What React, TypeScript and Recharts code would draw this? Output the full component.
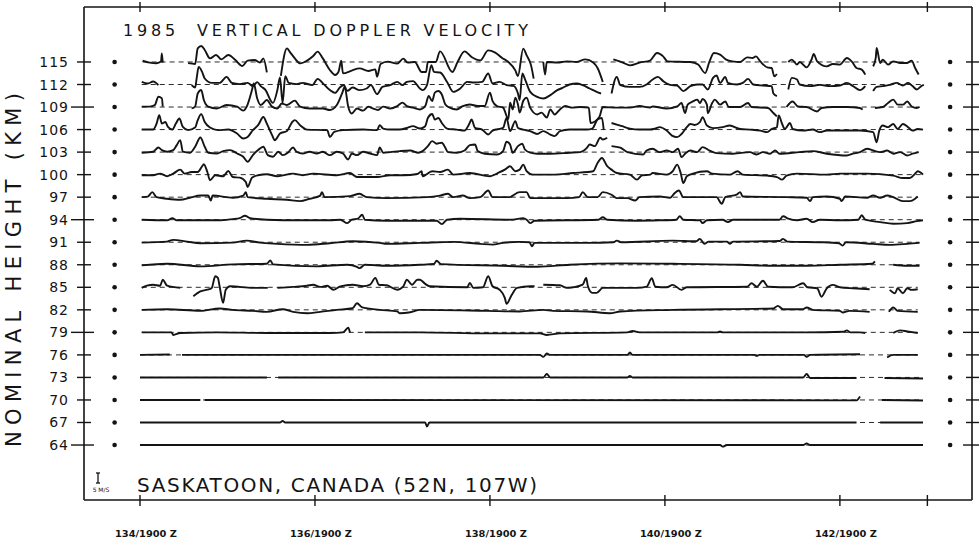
import React from 'react';
import { ComposedChart, Line, XAxis, YAxis } from 'recharts';

type Pt = [number, number | null];

// nominal heights (km) of the traces
const HEIGHTS = [115, 112, 109, 106, 103, 100, 97, 94, 91, 88, 85, 82, 79, 76, 73, 70, 67, 64];
const MAJOR_HEIGHTS = [109, 94, 79, 64];
// time axis: day of year (tick at 19:00 UT)
const TICK_DAYS = [134, 136, 138, 140, 142, 143];
const TICK_LABELS: Record<number, string> = {
  134: '134/1900 Z',
  136: '136/1900 Z',
  138: '138/1900 Z',
  140: '140/1900 Z',
  142: '142/1900 Z',
};
// column of reference dots on each side
const DOT_DAYS = [133.71, 143.26];
// plotting scale: km of height per m/s of vertical velocity (5 m/s bar)
const KM_PER_MS = 0.2663;
const X_DOMAIN: [number, number] = [133.36, 143.51];
const Y_DOMAIN: [number, number] = [56.68, 122.32];

// vertical velocity (m/s) vs. day, per height; null = no data
const v115: Pt[] = [
  [134.03, 0.6], [134.11, -0.3], [134.19, -0.6], [134.24, 0.2], [134.25, 4.3], [134.26, -0.3], [134.4, null],
  [134.55, -0.6], [134.63, -1], [134.66, 6.8], [134.7, 8], [134.74, 6], [134.8, 1.8], [134.87, 3.5], [134.93, 1.3], [135.01, 3.5], [135.09, 1], [135.17, -2], [135.23, 0.7], [135.31, 1], [135.37, -0.3], [135.41, 1.8], [135.45, -5.2], [135.5, null],
  [135.61, -7], [135.68, 6.8], [135.71, 5.2], [135.77, 1.8], [135.83, -0.7], [135.91, 0.7], [135.98, 3], [136.03, 5.2], [136.09, 1.8], [136.17, -4], [136.23, -6.5], [136.27, -4.8], [136.3, 0.7], [136.32, -5.7], [136.42, -4.3], [136.51, -3.2], [136.61, -4.5], [136.69, -3.7], [136.71, -7.3], [136.75, -1], [136.83, 0.2], [136.94, -0.8], [137.01, 1.7], [137.06, -0.3], [137.14, 0], [137.22, -5], [137.27, -5], [137.29, 0], [137.38, 0], [137.43, 5.3], [137.57, -5], [137.63, 0], [137.71, 5.3], [137.79, 2.5], [137.89, 0.8], [137.98, 5.8], [138.06, 4.7], [138.14, 2], [138.21, 0], [138.29, -4.2], [138.32, -7], [138.38, 6.7], [138.42, 3.3], [138.47, -1.7], [138.5, -8.3], [138.55, null],
  [138.61, 0], [138.63, -6.3], [138.65, 0], [138.77, -0.3], [138.88, 0.3], [138.99, 0], [139.09, 1.3], [139.18, -0.3], [139.23, -3], [139.29, -10], [139.33, null],
  [139.41, 1.3], [139.52, -0.3], [139.6, -1.7], [139.71, -0.3], [139.83, 0.7], [139.91, 4.5], [139.98, 2.8], [140.03, 0.3], [140.29, 0], [140.38, -1.3], [140.46, -5.5], [140.51, 0.3], [140.56, 4.5], [140.63, 3.7], [140.7, 1.2], [140.77, 0.3], [140.86, 0], [140.94, 2.3], [141.0, 2], [141.04, 2.8], [141.09, 0.3], [141.17, -2.7], [141.22, -3], [141.25, -7.2], [141.28, -6], [141.33, null],
  [141.41, 0], [141.45, 1.2], [141.51, -1.3], [141.54, 0], [141.62, -2.7], [141.68, 1.7], [141.7, 4], [141.74, 0.3], [141.85, -2.2], [141.92, -1], [142.0, -1.3], [142.08, 2], [142.14, 0], [142.19, -3], [142.25, -3.8], [142.29, -6.3], [142.33, null],
  [142.38, -2.2], [142.41, 2], [142.42, 7], [142.46, -0.5], [142.49, 1.2], [142.55, -1.3], [142.61, 0.3], [142.69, -0.5], [142.77, -0.5], [142.82, 0.7], [142.86, -3], [142.9, -6.3],
];

const v112: Pt[] = [
  [134.02, 1.3], [134.09, 0.5], [134.15, 1.5], [134.21, -0.3], [134.3, null],
  [134.59, -0.3], [134.63, -1.5], [134.65, 3.8], [134.67, 8.8], [134.71, 6.3], [134.74, 3], [134.82, 0.8], [134.91, 0.8], [134.99, 3.8], [135.05, 0.8], [135.14, 0.2], [135.23, 0.8], [135.29, -0.8], [135.34, 1.2], [135.38, -0.8], [135.43, -2.5], [135.52, -9.2], [135.57, -2.8], [135.6, 3.5], [135.63, -9.2], [135.66, 4.2], [135.7, 0.8], [135.79, 0.2], [135.86, 0.8], [135.97, -0.3], [136.03, 2.8], [136.1, 0.2], [136.17, -2.8], [136.23, -4.2], [136.29, -1.2], [136.33, -0.3], [136.37, -3.2], [136.43, -1.5], [136.51, -2.8], [136.59, -2], [136.64, -0.3], [136.71, -4.8], [136.77, -1.2], [136.86, -0.3], [136.94, 1.3], [137.0, -0.3], [137.05, 1.3], [137.12, 1.7], [137.2, -2], [137.23, -2.8], [137.28, -0.3], [137.33, 9.7], [137.36, 6.3], [137.43, 6], [137.51, 1.3], [137.58, -3.7], [137.66, -2], [137.74, 1.3], [137.82, 1], [137.91, 1.3], [137.98, 5.5], [138.03, 0.5], [138.11, 1.3], [138.19, -0.3], [138.27, -0.7], [138.32, -4.5], [138.34, -7.8], [138.37, 5.5], [138.4, 2.7], [138.46, -3.7], [138.54, -6.2], [138.61, -7], [138.69, -5.3], [138.77, -2.8], [138.83, -1.7], [138.91, 0], [138.99, 0.5], [139.06, -0.3], [139.14, -2], [139.22, -3.7], [139.27, -4.5], [139.31, null],
  [139.39, -4.5], [139.45, 3.8], [139.49, -0.3], [139.6, -1.2], [139.71, -1.2], [139.79, 0], [139.86, 2.5], [139.92, 3.8], [139.98, 1.7], [140.06, -0.2], [140.14, -0.5], [140.21, -3.3], [140.29, -0.8], [140.37, 0], [140.43, 0], [140.49, -2.5], [140.55, 3.3], [140.59, 4.5], [140.63, 0.8], [140.69, 3.8], [140.72, 0.8], [140.82, 0], [140.89, 0.8], [140.95, 2.8], [141.01, 0], [141.12, -0.5], [141.22, -0.8], [141.24, -4.5], [141.28, -5.8], [141.33, null],
  [141.41, -2.5], [141.45, 3.3], [141.51, 2.5], [141.54, 0], [141.66, -0.8], [141.77, -0.2], [141.89, -0.8], [142.0, -0.5], [142.08, 0.8], [142.15, -0.8], [142.23, -2.8], [142.29, -0.8], [142.33, null],
  [142.38, -3.3], [142.42, -1.2], [142.49, -0.8], [142.57, -0.2], [142.65, 0.8], [142.72, -0.5], [142.78, 0.8], [142.83, -0.8], [142.88, -2.5], [142.93, -0.8], [142.96, -0.2],
];

const v109: Pt[] = [
  [134.02, 0.2], [134.11, 0.2], [134.17, 1], [134.21, 5.2], [134.25, 4.3], [134.26, 0.2], [134.35, null],
  [134.59, -0.7], [134.63, 0.2], [134.66, 6.8], [134.7, 8.5], [134.73, 3.5], [134.78, 0.2], [134.88, -0.7], [134.99, 1], [135.11, 0.2], [135.18, -1.8], [135.22, 0.2], [135.28, 8.5], [135.3, 11.8], [135.34, 4.3], [135.38, 1], [135.45, 3.5], [135.51, 0.2], [135.57, -0.7], [135.62, 1.8], [135.68, 1], [135.77, 3.2], [135.83, 0.2], [135.94, -0.7], [136.09, -0.7], [136.17, -1.5], [136.25, 1], [136.31, 6.8], [136.34, 10], [136.38, 0.2], [136.42, -3.2], [136.48, -0.7], [136.55, -1.8], [136.61, 0.2], [136.66, -0.7], [136.72, -1.5], [136.78, 0.2], [136.86, -0.7], [136.94, 0.5], [137.0, 2.2], [137.05, 0.5], [137.12, -0.3], [137.2, -1.2], [137.26, 0.5], [137.3, 5.5], [137.34, 3], [137.37, 7.2], [137.41, 8], [137.45, 6.3], [137.49, 1.3], [137.54, -0.3], [137.62, -1.2], [137.69, 0.5], [137.77, 1.3], [137.86, 0.5], [137.94, 0.5], [138.0, 7.2], [138.03, 3], [138.08, 0.5], [138.15, -0.3], [138.21, -6], [138.23, 2.2], [138.26, -1.2], [138.29, 4.7], [138.32, 1.3], [138.34, -2.8], [138.38, 3], [138.42, 4.7], [138.46, -0.3], [138.54, -3.7], [138.59, -2.8], [138.65, -5.3], [138.69, -1.2], [138.74, -3.7], [138.8, -1.2], [138.86, 0.5], [138.94, -0.3], [139.03, 0], [139.13, -0.3], [139.15, -8], [139.25, -5], [139.29, 0], [139.45, -0.3], [139.6, -0.3], [139.71, 0.5], [139.83, -0.3], [139.86, 0.3], [140.02, -0.8], [140.14, 0.3], [140.19, 2], [140.23, -3], [140.26, 1.2], [140.32, 2.8], [140.37, 3.7], [140.4, 2], [140.43, 4], [140.48, 1.2], [140.49, -3], [140.54, 2], [140.57, 3.7], [140.63, 1.2], [140.69, 2.8], [140.73, 0], [140.86, 0], [140.95, 2], [140.99, 0], [141.18, -0.5], [141.24, -3], [141.28, -4.7], [141.32, null],
  [141.39, 0], [141.46, 2.8], [141.52, 0.3], [141.62, 0], [141.74, -2.2], [141.79, -0.5], [141.92, 0], [142.08, 0], [142.23, -0.5], [142.26, -1.3], [142.33, null],
  [142.4, -0.5], [142.49, 0], [142.55, 2], [142.61, 3.7], [142.66, 1.2], [142.72, 1.2], [142.77, 2.8], [142.82, 0.3], [142.88, -0.5], [142.91, 0],
];

const v106: Pt[] = [
  [134.02, 0], [134.15, 0], [134.19, 3], [134.22, 7.2], [134.25, 3], [134.29, 3.8], [134.32, 1.3], [134.37, 0], [134.41, 3], [134.45, 5.5], [134.49, 1.3], [134.55, -0.3], [134.63, 1], [134.66, 4.7], [134.7, 7.7], [134.74, 3.8], [134.8, 1], [134.89, -0.3], [135.01, 0], [135.11, -2], [135.18, -4.5], [135.23, -3.7], [135.29, -0.3], [135.35, 2.2], [135.41, 6.3], [135.45, 3], [135.51, -2.8], [135.54, -5.3], [135.6, -2], [135.68, -0.7], [135.74, 3.8], [135.77, 4.7], [135.83, 2.2], [135.91, 0], [136.14, -0.3], [136.17, -3.7], [136.22, -1.2], [136.32, -0.3], [136.55, 0], [136.71, -0.3], [136.74, 2.2], [136.78, 0.5], [136.86, 0], [136.97, 0], [137.05, 0.8], [137.12, 1.7], [137.2, 0.5], [137.26, 1.7], [137.29, 5.8], [137.34, 7.8], [137.37, 5], [137.41, 5.8], [137.45, 3.3], [137.51, 0.5], [137.62, 0], [137.71, -0.5], [137.76, 2.5], [137.79, 5], [137.83, 0.8], [137.91, 0], [137.98, -2.5], [138.03, -0.5], [138.15, 0.8], [138.19, 5.8], [138.23, -0.8], [138.29, 4.2], [138.32, 0.8], [138.38, 0], [138.46, -0.8], [138.54, -2.2], [138.61, -0.8], [138.69, -2.5], [138.74, -3.3], [138.8, -0.8], [138.91, 0], [139.11, 0], [139.17, 0.5], [139.23, 5], [139.28, 5.8], [139.3, 0], [139.33, null],
  [139.39, 3.3], [139.51, 1.7], [139.6, 0.5], [139.71, 0], [139.83, 0], [139.89, 0.5], [139.94, 1.2], [140.02, -0.5], [140.08, -3], [140.14, -3.8], [140.19, -2.2], [140.25, 1.2], [140.29, 2.8], [140.34, 2.3], [140.4, 3.7], [140.43, 6.2], [140.48, 2], [140.55, 0.7], [140.66, 1.2], [140.74, 2], [140.86, 0.3], [140.97, 0], [141.09, -0.5], [141.17, -1.3], [141.22, 0.3], [141.28, 1.2], [141.3, 7], [141.34, 2.8], [141.37, 0.3], [141.43, 3.3], [141.46, 0.3], [141.58, -0.5], [141.69, 0], [141.77, -1.3], [141.85, -0.5], [142.08, -0.5], [142.23, -0.5], [142.38, -1.3], [142.42, -6.3], [142.45, -0.5], [142.49, 2], [142.55, 1.2], [142.61, 2.8], [142.66, 0.3], [142.72, 2.8], [142.78, 1.2], [142.83, -0.5], [142.89, 0.3], [142.95, 0],
];

const v103: Pt[] = [
  [134.02, -0.3], [134.15, 0.2], [134.21, 2.3], [134.25, 1], [134.31, 0.2], [134.38, 1], [134.42, 3.5], [134.46, 6], [134.49, 0.2], [134.57, -0.3], [134.63, 2.7], [134.69, 7.3], [134.74, 2.7], [134.78, -0.3], [134.88, -0.7], [134.95, 0.5], [135.03, 1], [135.11, -0.7], [135.18, -2.3], [135.23, -4.8], [135.29, -1.5], [135.35, 1], [135.41, 2.7], [135.46, -1.5], [135.52, -2.3], [135.58, 0.2], [135.63, -1.5], [135.69, -0.3], [135.75, 2.3], [135.79, 0.2], [135.86, -0.7], [135.94, 0.2], [136.02, -0.7], [136.09, 0.2], [136.17, -1.5], [136.25, 0.2], [136.32, -0.7], [136.38, -3.7], [136.42, -0.7], [136.48, -1.5], [136.55, 0.2], [136.63, -0.7], [136.71, -1.5], [136.74, 2.3], [136.78, -0.3], [136.86, 0], [136.97, 0.5], [137.09, 0.8], [137.18, -0.3], [137.23, 0.5], [137.29, 3], [137.34, 5.5], [137.39, 4.2], [137.45, 4.7], [137.49, 2.2], [137.52, 0], [137.62, -0.3], [137.71, 0.8], [137.77, 3.5], [137.83, 3.8], [137.86, 0.5], [137.94, -0.8], [138.08, -1.2], [138.15, 0.5], [138.19, 5.2], [138.23, 3.8], [138.26, -0.3], [138.32, 3], [138.37, 4.2], [138.4, 1.3], [138.46, -0.3], [138.54, -0.8], [138.69, -0.8], [138.91, -0.3], [139.03, 0], [139.11, 2.2], [139.14, 3.8], [139.2, 3], [139.26, 7.2], [139.29, 6.3], [139.34, 7.2], [139.37, null],
  [139.39, 3], [139.49, 2.2], [139.57, 0], [139.75, -1.2], [139.79, 0.8], [139.86, 1.7], [139.94, 0], [140.02, 0.8], [140.09, 0], [140.15, 1.7], [140.19, -2.5], [140.23, -0.8], [140.29, 0.8], [140.37, 0], [140.43, 2.5], [140.51, 0.8], [140.59, -0.5], [140.78, -0.8], [140.97, 0], [141.05, -1.2], [141.12, 0], [141.2, -0.8], [141.26, 0.8], [141.31, -0.8], [141.54, 0], [141.69, 0.5], [141.85, -0.8], [142.08, -1.7], [142.15, -0.8], [142.23, 0], [142.31, 1.7], [142.38, 0.8], [142.46, 0], [142.54, 0.8], [142.61, -0.8], [142.69, 0], [142.77, -1.7], [142.83, -0.8], [142.9, 0],
];

const v100: Pt[] = [
  [134.02, -0.3], [134.15, -0.3], [134.23, 0.5], [134.31, -0.8], [134.38, 0.5], [134.46, 2.5], [134.51, 0.5], [134.59, 1.3], [134.66, 1.3], [134.71, 4.2], [134.73, 5.2], [134.77, 1.3], [134.8, -2.8], [134.86, -0.3], [134.95, -0.8], [135.01, 1.8], [135.06, -1.2], [135.14, -1.5], [135.21, -3.7], [135.23, -6.2], [135.28, -1.5], [135.35, -0.3], [135.45, 0.2], [135.57, -0.8], [135.75, 0.5], [135.86, -0.3], [135.98, 0.5], [136.25, -0.3], [136.4, 0.8], [136.48, -1.2], [136.71, -1.2], [136.86, -0.3], [137.01, -0.3], [137.17, 0.3], [137.22, 1.7], [137.23, -0.8], [137.34, 1.7], [137.43, 1.3], [137.52, 2.5], [137.58, 0], [137.77, 0.8], [138.0, -0.8], [138.09, 0.8], [138.17, 2.5], [138.23, 4.2], [138.29, 1.7], [138.34, 2.5], [138.38, 5], [138.42, 1.7], [138.49, 0], [138.72, 0], [138.95, 0.8], [139.18, 1.7], [139.23, 5.8], [139.28, 8.3], [139.34, 4.2], [139.39, 2.5], [139.45, 0.8], [139.6, 0], [139.68, -2.5], [139.74, -0.3], [139.83, 0], [139.86, 0.8], [140.02, 0], [140.09, 1.7], [140.14, 5], [140.18, 0.8], [140.21, -4.2], [140.25, -0.8], [140.32, 0.5], [140.48, 1.7], [140.54, 0.5], [140.74, 0], [140.83, 1.7], [140.89, 0], [141.17, -0.5], [141.28, -1.2], [141.34, -2.5], [141.39, -0.5], [141.51, 0.5], [141.85, 0], [142.0, 0.5], [142.31, 0.5], [142.61, -0.5], [142.72, -1.7], [142.8, -1.7], [142.86, 0.5], [142.89, 1.7], [142.95, 0],
];

const v97: Pt[] = [
  [134.02, 0], [134.09, 0.3], [134.14, 2.5], [134.19, 0], [134.31, -0.8], [134.46, -1.3], [134.57, -0.3], [134.69, 0.8], [134.78, 0.8], [134.81, -1.7], [134.83, 0.8], [135.06, -0.3], [135.18, 0.8], [135.21, 2.5], [135.23, 0], [135.45, -0.8], [135.68, -1.3], [135.83, -2], [135.94, -0.8], [136.06, 0.8], [136.08, 2.5], [136.11, 0], [136.4, 0.5], [136.51, 1.7], [136.59, 0], [136.82, -0.5], [137.28, 0], [137.43, 0.8], [137.52, 1.7], [137.58, 0], [137.69, 0.8], [137.77, -0.5], [137.89, 0], [137.98, 3.3], [138.03, 0], [138.23, 0], [138.26, 0.8], [138.34, 2.5], [138.42, 2.5], [138.46, -0.5], [138.88, -0.5], [139.02, 0], [139.06, 2.5], [139.12, 0], [139.23, 0], [139.29, 2.5], [139.39, 1.2], [139.45, -0.5], [139.57, -0.5], [139.66, -1.7], [139.71, 0], [139.94, 0.3], [140.06, -0.3], [140.11, 2], [140.16, 3.3], [140.21, 0], [140.59, 0], [140.65, -3.3], [140.69, 0], [140.82, 1.3], [140.86, 2.5], [140.89, 0.3], [141.39, 0], [141.62, -0.3], [141.66, -2], [141.69, 0], [141.85, 0.3], [142.0, -0.8], [142.02, -2], [142.06, 0.3], [142.31, -0.3], [142.38, 0.8], [142.46, -0.3], [142.54, 0.8], [142.61, 0], [142.72, -2], [142.8, -2], [142.86, -0.8], [142.89, 0.3],
];

const v94: Pt[] = [
  [134.02, 0], [134.31, -0.3], [134.37, 0.8], [134.42, -0.3], [134.88, -0.3], [135.06, 0.3], [135.14, 0.8], [135.2, 2], [135.26, 0.8], [135.45, 0], [135.83, -0.3], [136.17, -0.3], [136.29, 0], [136.37, -1.7], [136.42, 0], [136.49, 0.5], [136.54, 2.5], [136.57, 0], [136.82, -0.5], [137.39, -0.5], [137.45, -2.2], [137.51, 0], [137.66, 0.5], [138.26, 0], [138.38, 0.8], [138.42, 0], [138.46, -1.7], [138.51, -0.5], [139.24, 0], [139.29, 1.2], [139.34, 0], [139.68, -0.5], [139.94, -0.3], [140.13, 0], [140.17, 1.7], [140.21, 0], [140.4, -0.3], [140.43, -1.7], [140.48, -0.3], [140.66, 0], [140.72, -1.2], [140.78, 0], [141.31, 0], [141.35, 1.7], [141.41, 0.5], [141.51, -0.3], [141.62, 0.5], [141.69, -1.2], [141.77, 0], [142.0, -0.3], [142.21, 0], [142.25, 2.2], [142.29, 0], [142.46, -1.2], [142.61, -2], [142.77, -1.7], [142.88, -0.7], [142.95, -0.3],
];

const v91: Pt[] = [
  [134.02, -0.2], [134.31, 0.3], [134.38, 1.2], [134.54, 0.3], [134.69, -0.5], [135.06, -0.2], [135.22, 0.8], [135.37, -0.2], [135.57, -0.8], [135.91, -1.3], [136.17, -0.5], [136.43, 0.5], [136.74, -0.3], [136.82, -0.8], [137.2, -0.3], [137.58, 0.2], [137.89, -0.8], [138.03, -1.2], [138.15, -0.3], [138.34, 0.2], [138.45, 0], [138.48, -2], [138.51, -0.3], [139.11, -0.3], [139.41, 0], [139.45, 0.8], [139.5, 0], [140.09, 0.8], [140.36, 0.5], [140.4, 1.7], [140.45, -0.8], [140.5, 0.3], [140.71, 0.3], [140.74, -0.8], [140.78, 0.3], [141.31, 0.6], [141.35, 1.7], [141.4, 0.3], [141.81, 0], [141.99, -0.5], [142.03, -1.7], [142.07, 0], [142.38, -0.8], [142.57, -1.3], [142.77, -0.8], [142.91, -0.3],
];

const v88: Pt[] = [
  [134.02, -0.3], [134.31, 0.5], [134.69, -0.8], [135.06, 0.2], [135.45, 0.5], [135.49, 2.2], [135.52, 0.2], [136.02, -0.8], [136.37, 0], [136.48, -1], [136.51, -1.7], [136.57, 0], [136.82, -0.5], [137.2, 0], [137.36, 0.4], [137.39, 2], [137.44, 0.3], [138.15, -0.5], [138.54, -1], [138.91, 0], [139.49, 0.7], [140.09, 0.5], [140.86, 0], [141.24, -0.5], [141.62, -0.5], [142.0, 0], [142.37, 0.5], [142.4, 1.7], [142.5, null],
  [142.61, 0], [142.77, -0.5], [142.91, -0.5],
];

const v85: Pt[] = [
  [134.02, -0.3], [134.08, 0.8], [134.15, 1.3], [134.23, 0.8], [134.26, 3.8], [134.31, 0.8], [134.46, -0.3], [134.5, null],
  [134.61, -4.5], [134.69, -2], [134.77, -1.2], [134.82, -0.3], [134.86, 5.5], [134.89, 4.7], [134.91, 0.5], [134.95, -7.8], [134.98, -1.2], [135.03, 0.5], [135.29, -0.3], [135.46, -0.3], [135.5, null],
  [135.57, -0.3], [135.75, 0.2], [135.91, 0.8], [135.98, 1.3], [136.06, 0.2], [136.14, 0.8], [136.21, -1.2], [136.29, 0.5], [136.43, 1.3], [136.55, 0.5], [136.63, 1.3], [136.69, 4.7], [136.73, 1.3], [136.82, 1], [136.94, -1.2], [137.01, 0.5], [137.05, 3.8], [137.11, 1.3], [137.17, 3.8], [137.2, 3.8], [137.26, 1.7], [137.31, 0.5], [137.74, 0], [137.77, 2.2], [137.81, -0.3], [137.92, 0], [137.98, 5.5], [138.03, 0.5], [138.11, -1.2], [138.17, -5.3], [138.19, -8.3], [138.25, -3.7], [138.31, -0.3], [138.46, 0.5], [138.51, 0.5], [138.55, null],
  [138.61, 1.3], [138.8, 1], [138.88, -0.3], [138.95, 0], [139.06, 1.3], [139.1, 4.7], [139.12, 0.5], [139.17, -2.8], [139.22, -2.8], [139.29, -0.3], [139.68, -0.3], [139.79, 0.3], [139.85, 4.5], [139.89, 0.3], [140.02, 0], [140.09, 1.2], [140.19, -1.3], [140.25, 0], [140.94, 0.3], [140.99, 2], [141.05, 0.3], [141.12, 3.3], [141.18, 0.3], [141.46, 0], [141.58, 2], [141.63, 0], [141.74, -0.5], [141.79, -4.7], [141.85, -0.5], [141.92, 1.2], [142.0, 0], [142.15, -0.5], [142.34, -1], [142.4, null],
  [142.57, -1.3], [142.63, -3], [142.66, -0.5], [142.72, -3], [142.77, -0.5], [142.82, -1.3], [142.89, -1],
];

const v82: Pt[] = [
  [134.02, 0], [134.31, 0.3], [134.69, -0.5], [134.91, 0.7], [135.06, 0], [135.29, -0.5], [135.45, -1], [135.63, 0.3], [135.75, -1], [135.91, -1.7], [136.06, -1], [136.25, 0], [136.43, 0.8], [136.48, 3.3], [136.54, 1.2], [136.74, 0], [136.94, -0.8], [136.97, -1.7], [137.09, -1.2], [137.2, 0], [137.97, -0.5], [138.34, -0.8], [138.61, 0], [138.72, -0.5], [139.11, -0.8], [139.37, -1.7], [139.49, -0.8], [140.09, 0], [141.24, 0.7], [141.29, 2], [141.35, 0.3], [141.58, 0.3], [141.62, 1.2], [141.69, 0], [142.0, -0.5], [142.03, -1.3], [142.11, -0.5], [142.34, -1], [142.4, null],
  [142.56, -1], [142.61, 1.2], [142.66, -0.5], [142.89, -1],
];

const v79: Pt[] = [
  [134.02, 0], [134.36, 0], [134.38, -1.3], [134.46, -0.3], [134.88, 0], [135.45, -0.3], [136.17, -0.3], [136.32, 0], [136.38, 2.3], [136.4, 0], [136.45, null],
  [136.57, 0], [137.2, 0], [137.97, -0.5], [138.57, -0.5], [138.65, -1.3], [138.8, -0.5], [139.57, 0], [139.63, 0.7], [139.71, 0], [140.6, 0], [140.63, 0.5], [140.66, 0], [141.62, 0], [142.04, 0.3], [142.08, 1], [142.12, 0], [142.23, 0], [142.29, -0.3], [142.4, null],
  [142.61, -0.3], [142.69, 1], [142.77, 0.5], [142.89, -0.3],
];

const v76: Pt[] = [
  [134.0, 0], [134.34, 0.2], [134.4, null],
  [134.48, 0], [138.57, 0], [138.61, -1], [138.65, 0.7], [138.69, 0], [139.57, 0], [139.6, 1.2], [139.63, 0], [141.02, 0], [141.05, -0.5], [141.08, 0], [141.59, 0], [141.62, -1], [141.66, 0], [142.23, 0.3], [142.4, null],
  [142.54, -1.3], [142.61, 0], [142.89, 0],
];

const v73: Pt[] = [
  [134.0, 0], [135.45, 0], [135.5, null],
  [135.58, 0], [138.61, 0], [138.65, 1.7], [138.69, 0], [139.57, 0], [139.6, 0.8], [139.63, 0], [141.58, 0], [141.62, 1.7], [141.66, -0.3], [142.19, -0.3], [142.3, null],
  [142.51, -0.3], [142.95, -0.5],
];

const v70: Pt[] = [
  [134.0, 0], [134.69, 0], [134.72, null],
  [134.74, 0], [142.19, -0.2], [142.23, 1.7], [142.3, null],
  [142.48, 0], [142.95, -0.3],
];

const v67: Pt[] = [
  [134.0, 0], [135.6, 0], [135.63, 0.8], [135.66, 0], [137.26, 0], [137.28, -2], [137.31, 0], [142.19, 0], [142.3, null],
  [142.46, 0], [142.95, 0],
];

const v64: Pt[] = [
  [134.0, 0], [140.63, 0], [140.66, -0.8], [140.71, 0], [141.58, 0], [141.62, 0.8], [141.66, 0], [142.95, 0],
];

const ROWS: [number, Pt[]][] = [
  [115, v115], [112, v112], [109, v109], [106, v106], [103, v103], [100, v100],
  [97, v97], [94, v94], [91, v91], [88, v88], [85, v85], [82, v82],
  [79, v79], [76, v76], [73, v73], [70, v70], [67, v67], [64, v64],
];

const INK = '#141414';
const FONT = '"DejaVu Sans", "Liberation Sans", sans-serif';

const toSeries = (h: number, pts: Pt[]) =>
  pts.map(([t, v]) => ({ t, v: v === null ? null : h + v * KM_PER_MS }));

const baseline = (h: number, pts: Pt[]) => [
  { t: pts[0][0], v: h },
  { t: pts[pts.length - 1][0], v: h },
];

const BottomTick = (p: any) => {
  const { x, y, payload } = p;
  const lbl = TICK_LABELS[payload.value];
  return (
    <g>
      <line x1={x} x2={x} y1={y - 5} y2={y + 6} stroke={INK} strokeWidth={1.4} />
      {lbl ? (
        <text x={x + 6} y={y + 37} textAnchor="middle" fontSize={9.5} fontWeight="bold" fontFamily={FONT} fill={INK} textLength={62} lengthAdjust="spacingAndGlyphs">
          {lbl}
        </text>
      ) : null}
    </g>
  );
};

const TopTick = (p: any) => {
  const { x, y } = p;
  return <line x1={x} x2={x} y1={y - 5} y2={y + 5} stroke={INK} strokeWidth={1.4} />;
};

const LeftTick = (p: any) => {
  const { x, y, payload } = p;
  const major = MAJOR_HEIGHTS.includes(payload.value);
  return (
    <g>
      <line x1={x - (major ? 13 : 7)} x2={x + (major ? 10 : 7)} y1={y} y2={y} stroke={INK} strokeWidth={1.4} />
      <text x={x - 15} y={y + 5} textAnchor="end" fontSize={14} fontFamily={FONT} fill={INK} letterSpacing={1}>
        {payload.value}
      </text>
    </g>
  );
};

const RightTick = (p: any) => {
  const { x, y, payload } = p;
  const major = MAJOR_HEIGHTS.includes(payload.value);
  return <line x1={x - (major ? 9 : 6)} x2={x + 7} y1={y} y2={y} stroke={INK} strokeWidth={1.4} />;
};

export default function App() {
  const dotsLeft = HEIGHTS.map((h) => ({ t: DOT_DAYS[0], v: h }));
  const dotsRight = HEIGHTS.map((h) => ({ t: DOT_DAYS[1], v: h }));
  return (
    <div style={{ position: 'absolute', left: 0, top: 0, width: 980, height: 542, background: '#fff' }}>
      <ComposedChart width={980} height={542} margin={{ top: 6, right: 7, bottom: 41, left: 83 }}>
        <XAxis xAxisId="b" type="number" dataKey="t" domain={X_DOMAIN} allowDataOverflow orientation="bottom" height={1}
          ticks={TICK_DAYS} interval={0} tickSize={0} tickMargin={0} tickLine={false} tick={BottomTick}
          axisLine={{ stroke: INK, strokeWidth: 1.6 }} />
        <XAxis xAxisId="t" type="number" dataKey="t" domain={X_DOMAIN} allowDataOverflow orientation="top" height={1}
          ticks={TICK_DAYS} interval={0} tickSize={0} tickMargin={0} tickLine={false} tick={TopTick}
          axisLine={{ stroke: INK, strokeWidth: 1.6 }} />
        <YAxis yAxisId="l" type="number" domain={Y_DOMAIN} allowDataOverflow orientation="left" width={1}
          ticks={HEIGHTS} interval={0} tickSize={0} tickMargin={0} tickLine={false} tick={LeftTick}
          axisLine={{ stroke: INK, strokeWidth: 1.6 }} />
        <YAxis yAxisId="r" type="number" domain={Y_DOMAIN} allowDataOverflow orientation="right" width={1}
          ticks={HEIGHTS} interval={0} tickSize={0} tickMargin={0} tickLine={false} tick={RightTick}
          axisLine={{ stroke: INK, strokeWidth: 1.6 }} />
        {ROWS.map(([h, pts]) => (
          <Line key={'b' + h} xAxisId="b" yAxisId="l" data={baseline(h, pts)} dataKey="v" type="linear"
            stroke={INK} strokeWidth={0.9} strokeDasharray="5 4" dot={false} activeDot={false} isAnimationActive={false} />
        ))}
        {ROWS.map(([h, pts]) => (
          <Line key={'s' + h} xAxisId="b" yAxisId="l" data={toSeries(h, pts)} dataKey="v" type="monotoneX"
            stroke={INK} strokeWidth={1.9} strokeLinejoin="round" dot={false} activeDot={false}
            connectNulls={false} isAnimationActive={false} />
        ))}
        <Line xAxisId="b" yAxisId="l" data={dotsLeft} dataKey="v" stroke="none" isAnimationActive={false}
          dot={{ r: 2.3, fill: INK, stroke: 'none' }} activeDot={false} />
        <Line xAxisId="t" yAxisId="r" data={dotsRight} dataKey="v" stroke="none" isAnimationActive={false}
          dot={{ r: 2.3, fill: INK, stroke: 'none' }} activeDot={false} />
      </ComposedChart>
      <svg width={980} height={542} style={{ position: 'absolute', left: 0, top: 0, pointerEvents: 'none' }}>
        <text x={123} y={36} fontSize={16} fontFamily={FONT} fill={INK} textLength={405} lengthAdjust="spacing" style={{ whiteSpace: 'pre' }}>
          1985  VERTICAL DOPPLER VELOCITY
        </text>
        <text x={137} y={492} fontSize={20} fontFamily={FONT} fill={INK} textLength={400} lengthAdjust="spacing">
          SASKATOON, CANADA (52N, 107W)
        </text>
        <text transform="translate(21,270) rotate(-90)" textAnchor="middle" fontSize={21} fontFamily={FONT} fill={INK} textLength={354} lengthAdjust="spacing">
          NOMINAL HEIGHT (KM)
        </text>
        <g stroke={INK} strokeWidth={1.3}>
          <line x1={98} x2={98} y1={473} y2={483} />
          <line x1={96} x2={100} y1={473} y2={473} />
          <line x1={96} x2={100} y1={483} y2={483} />
        </g>
        <text x={101} y={492} textAnchor="middle" fontSize={6} fontFamily={FONT} fill={INK}>5 M/S</text>
      </svg>
    </div>
  );
}
